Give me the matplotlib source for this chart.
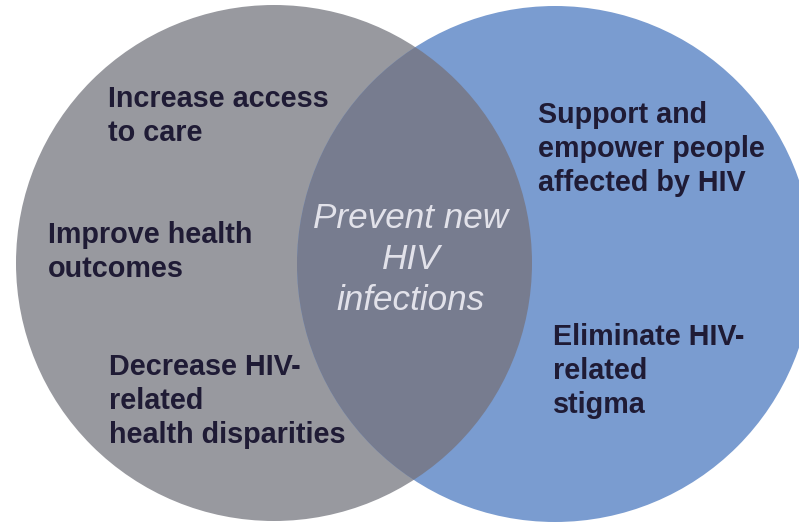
import matplotlib.pyplot as plt
from matplotlib.patches import Circle

# circles (centre x, centre y, radius) in pixel units
circle_left = (274, 263, 258)
circle_right = (555, 264, 258)
col_left = '#98999f'
col_right = '#7a9cd0'
col_overlap = '#777c8f'

# labels: (lines, x, first baseline)
labels_left = [
    (['Increase access', 'to care'], 108, 107),
    (['Improve health', 'outcomes'], 48, 243),
    (['Decrease HIV-', 'related', 'health disparities'], 109, 375),
]
labels_right = [
    (['Support and', 'empower people', 'affected by HIV'], 538, 123),
    (['Eliminate HIV-', 'related', 'stigma'], 553, 345),
]
center_lines = ['Prevent new', 'HIV', 'infections']

fig = plt.figure(figsize=(7.99, 5.24), dpi=100)
ax = fig.add_axes([0, 0, 1, 1])
ax.set_xlim(0, 799)
ax.set_ylim(524, 0)
ax.set_aspect('equal')
ax.axis('off')

cl = Circle(circle_left[:2], circle_left[2], color=col_left, lw=0)
cr = Circle(circle_right[:2], circle_right[2], color=col_right, lw=0)
ax.add_patch(cl)
ax.add_patch(cr)
# overlap = right circle clipped by left one
co = Circle(circle_right[:2], circle_right[2], color=col_overlap, lw=0)
ax.add_patch(co)
co.set_clip_path(cl)

for lines, x, y0 in labels_left + labels_right:
    for i, s in enumerate(lines):
        ax.text(x, y0 + i * 34, s, fontsize=20.7, fontweight='bold',
                family='Liberation Sans', color='#1f1b35', va='baseline', ha='left')

for i, s in enumerate(center_lines):
    ax.text(411, 228 + i * 41, s, fontsize=25.3, style='italic',
            family='Liberation Sans', color='#e2e2ea', va='baseline', ha='center')

fig.savefig('out.png', dpi=100)
